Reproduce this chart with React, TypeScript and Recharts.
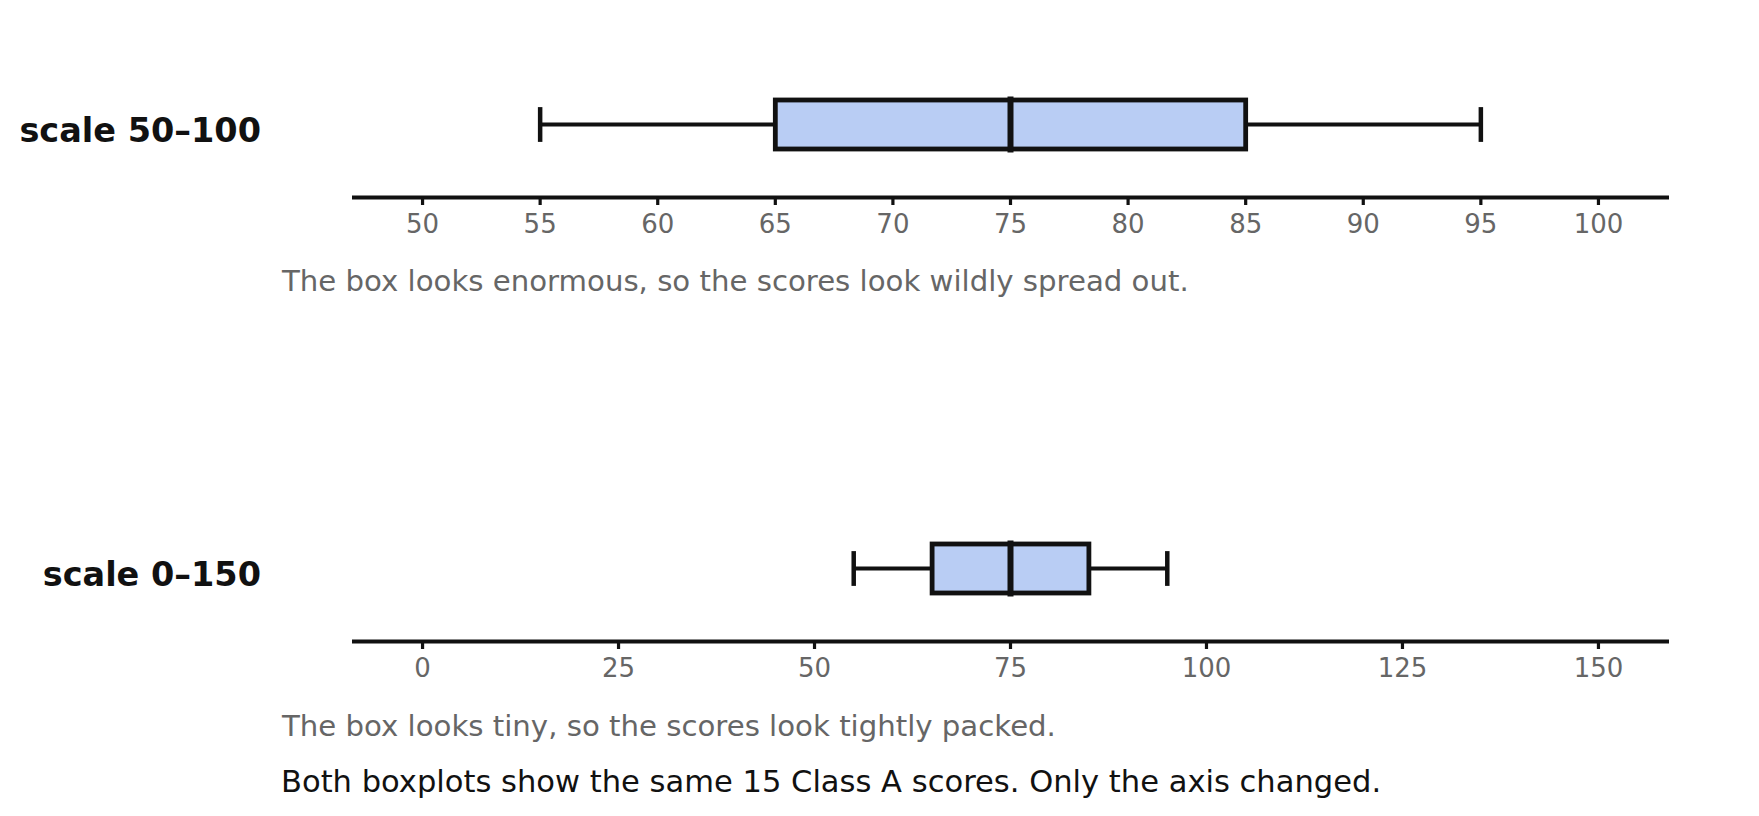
import React from 'react';
import { ComposedChart, Bar, XAxis, YAxis } from 'recharts';

// ---- data ----
const panelLabels = ['scale 50–100', 'scale 0–150'];
const whiskerLow = [55, 55];
const quartile1 = [65, 65];
const medians = [75, 75];
const quartile3 = [85, 85];
const whiskerHigh = [95, 95];
const topTicks = [50, 55, 60, 65, 70, 75, 80, 85, 90, 95, 100];
const bottomTicks = [0, 25, 50, 75, 100, 125, 150];
const topDomain = [47, 103];
const bottomDomain = [-9, 159];
const captions = [
  'The box looks enormous, so the scores look wildly spread out.',
  'The box looks tiny, so the scores look tightly packed.',
];
const note = 'Both boxplots show the same 15 Class A scores. Only the axis changed.';

const FONT = '"DejaVu Sans", Verdana, sans-serif';
const INK = '#111111';
const BOX_FILL = '#b9cdf4';

const rowFor = (i: number) => [
  {
    name: panelLabels[i],
    lo: whiskerLow[i],
    q1: quartile1[i],
    med: medians[i],
    q3: quartile3[i],
    hi: whiskerHigh[i],
  },
];

function BoxShape(props: any) {
  const { x, y, width, height, payload } = props;
  const { lo, hi, q1, q3, med } = payload;
  const px = (v: number) => x + ((v - lo) / (hi - lo)) * width;
  const cy = y + height / 2;
  const capHalf = height * 0.355;
  return (
    <g>
      <line x1={px(lo)} x2={px(q1)} y1={cy} y2={cy} stroke={INK} strokeWidth={4} />
      <line x1={px(q3)} x2={px(hi)} y1={cy} y2={cy} stroke={INK} strokeWidth={4} />
      <line x1={px(lo)} x2={px(lo)} y1={cy - capHalf} y2={cy + capHalf} stroke={INK} strokeWidth={4.5} />
      <line x1={px(hi)} x2={px(hi)} y1={cy - capHalf} y2={cy + capHalf} stroke={INK} strokeWidth={4.5} />
      <rect
        x={px(q1)}
        y={y}
        width={px(q3) - px(q1)}
        height={height}
        fill={BOX_FILL}
        stroke={INK}
        strokeWidth={4.8}
      />
      <line x1={px(med)} x2={px(med)} y1={y - 3.5} y2={y + height + 3.5} stroke={INK} strokeWidth={6} />
    </g>
  );
}

function LabelTick(props: any) {
  const { x, y, payload } = props;
  return (
    <text
      x={x}
      y={y + 18}
      textAnchor="end"
      fontFamily={FONT}
      fontSize={33.5}
      fontWeight="bold"
      fill={INK}
    >
      {payload.value}
    </text>
  );
}

function Panel({ index, domain, ticks, top }: { index: number; domain: number[]; ticks: number[]; top: number }) {
  return (
    <div style={{ position: 'absolute', left: 0, top, width: 1759, height: 260 }}>
      <ComposedChart
        width={1759}
        height={260}
        layout="vertical"
        data={rowFor(index)}
        margin={{ top: 51, right: 90, bottom: 0, left: 0 }}
      >
        <XAxis
          type="number"
          domain={domain}
          ticks={ticks}
          interval={0}
          allowDataOverflow
          height={62.5}
          axisLine={{ stroke: INK, strokeWidth: 4 }}
          tickLine={{ stroke: INK, strokeWidth: 3.2 }}
          tickSize={7.5}
          tickMargin={9.5}
          tick={{ fontFamily: FONT, fontSize: 26, fill: '#666666' }}
        />
        <YAxis
          type="category"
          dataKey="name"
          width={352}
          axisLine={false}
          tickLine={false}
          tickSize={0}
          tickMargin={91}
          tick={<LabelTick />}
        />
        <Bar
          dataKey={(d: any) => [d.lo, d.hi]}
          barSize={49}
          shape={<BoxShape />}
          isAnimationActive={false}
        />
      </ComposedChart>
    </div>
  );
}

export default function App() {
  return (
    <div
      style={{
        position: 'absolute',
        left: 0,
        top: 0,
        width: 1759,
        height: 816,
        background: '#ffffff',
        overflow: 'hidden',
      }}
    >
      <Panel index={0} domain={topDomain} ticks={topTicks} top={0} />
      <Panel index={1} domain={bottomDomain} ticks={bottomTicks} top={444.3} />
      <svg
        width={1759}
        height={816}
        style={{ position: 'absolute', left: 0, top: 0, pointerEvents: 'none' }}
      >
        <text x={282} y={291} fontFamily={FONT} fontSize={29.2} fill="#666666">
          {captions[0]}
        </text>
        <text x={282} y={736} fontFamily={FONT} fontSize={29.2} fill="#666666">
          {captions[1]}
        </text>
        <text x={281} y={791.5} fontFamily={FONT} fontSize={30.55} fill={INK}>
          {note}
        </text>
      </svg>
    </div>
  );
}
